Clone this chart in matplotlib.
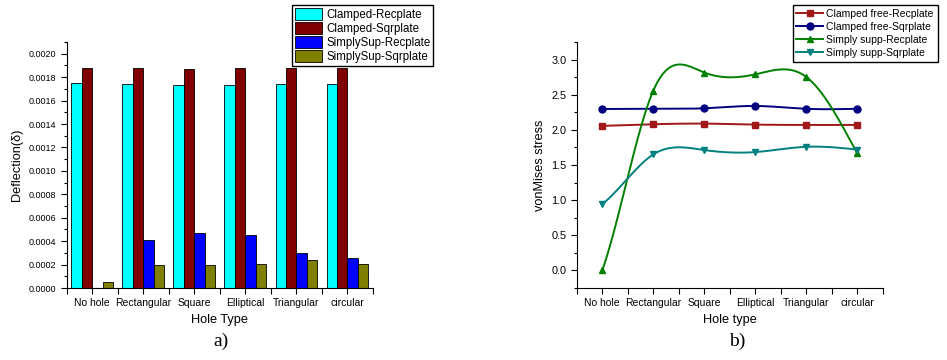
import numpy as np
import matplotlib
matplotlib.use('Agg')
import matplotlib.pyplot as plt
from matplotlib.ticker import MultipleLocator, FixedLocator, FormatStrFormatter

plt.rcParams['font.family'] = ['Liberation Sans', 'DejaVu Sans']

holes = ['No hole', 'Rectangular', 'Square', 'Elliptical', 'Triangular', 'circular']

# a) deflection
clamped_rec = [0.001746, 0.001743, 0.001737, 0.001737, 0.00174, 0.00174]
clamped_sqr = [0.001877, 0.001876, 0.001869, 0.001877, 0.001876, 0.001876]
simply_rec = [0.0, 0.000406, 0.00047, 0.000452, 0.000299, 0.000252]
simply_sqr = [0.000052, 0.0002, 0.000197, 0.000209, 0.000235, 0.000206]
bar_labels = ['Clamped-Recplate', 'Clamped-Sqrplate', 'SimplySup-Recplate', 'SimplySup-Sqrplate']
bar_colors = ['#00FFFF', '#800000', '#0000FF', '#808000']

# b) von Mises stress
cf_rec = [2.057, 2.08, 2.089, 2.075, 2.07, 2.07]
cf_sqr = [2.297, 2.30, 2.307, 2.34, 2.30, 2.30]
ss_rec = [0.0, 2.556, 2.816, 2.79, 2.754, 1.665]
ss_sqr = [0.943, 1.65, 1.713, 1.684, 1.759, 1.72]
line_labels = ['Clamped free-Recplate', 'Clamped free-Sqrplate', 'Simply supp-Recplate', 'Simply supp-Sqrplate']
line_colors = ['#A01818', '#000080', '#008000', '#008080']
line_markers = ['s', 'o', '^', 'v']


def spline(x, y, n=300):
    # cubic spline for the smooth connecting line (start slope clamped, natural end)
    x = np.asarray(x, float)
    y = np.asarray(y, float)
    k = len(x)
    h = np.diff(x)
    A = np.zeros((k, k))
    r = np.zeros(k)
    c0 = (y[1] - y[0]) / h[0]
    m0 = 0.8 * c0
    A[0, 0] = 2 * h[0]
    A[0, 1] = h[0]
    r[0] = 6 * (c0 - m0)
    A[-1, -1] = 1
    for i in range(1, k - 1):
        A[i, i - 1] = h[i - 1]
        A[i, i] = 2 * (h[i - 1] + h[i])
        A[i, i + 1] = h[i]
        r[i] = 6 * ((y[i + 1] - y[i]) / h[i] - (y[i] - y[i - 1]) / h[i - 1])
    M = np.linalg.solve(A, r)
    xs = np.linspace(x[0], x[-1], n)
    ys = np.empty_like(xs)
    for j, t in enumerate(xs):
        i = min(np.searchsorted(x, t, side='right') - 1, k - 2)
        a = x[i + 1] - t
        b = t - x[i]
        ys[j] = (M[i] * a ** 3 + M[i + 1] * b ** 3) / (6 * h[i]) \
            + (y[i] / h[i] - M[i] * h[i] / 6) * a + (y[i + 1] / h[i] - M[i + 1] * h[i] / 6) * b
    return xs, ys


fig = plt.figure(figsize=(9.47, 3.6), dpi=100)

# ---------------- a)
ax1 = fig.add_axes([0.0704, 0.2, 0.3235, 0.6833])
x = np.arange(len(holes))
w = 0.205
for k, vals in enumerate([clamped_rec, clamped_sqr, simply_rec, simply_sqr]):
    ax1.bar(x + (k - 1.5) * w, vals, w, color=bar_colors[k], edgecolor='black',
            linewidth=0.6, label=bar_labels[k])
ax1.set_xlim(-0.5, 5.5)
ax1.set_ylim(0, 0.0021)
ax1.set_xticks(x)
ax1.set_xticklabels(holes, fontsize=7.5)
ax1.xaxis.set_minor_locator(FixedLocator(np.arange(-0.5, 6, 1)))
ax1.yaxis.set_major_locator(MultipleLocator(0.0002))
ax1.yaxis.set_minor_locator(MultipleLocator(0.0001))
ax1.yaxis.set_major_formatter(FormatStrFormatter('%.4f'))
ax1.tick_params(axis='y', labelsize=6.5)
ax1.set_xlabel('Hole Type', fontsize=9.2)
ax1.set_ylabel('Deflection(δ)', fontsize=9.2)
ax1.legend(loc='upper left', bbox_to_anchor=(0.3085, 0.986), bbox_transform=fig.transFigure,
           fontsize=8.3, frameon=True, fancybox=False, edgecolor='black', framealpha=1,
           handlelength=2.3, handleheight=1.2, labelspacing=0.12, borderpad=0.25,
           handletextpad=0.4, borderaxespad=0.0)
fig.text(0.233, 0.04, 'a)', fontsize=14, family='Liberation Serif', ha='center')

# ---------------- b)
ax2 = fig.add_axes([0.609, 0.2, 0.3231, 0.6833])
for k, vals in enumerate([cf_rec, cf_sqr, ss_rec, ss_sqr]):
    xs, ys = spline(x, vals)
    ax2.plot(xs, ys, color=line_colors[k], lw=1.4, zorder=2)
    ax2.plot(x, vals, ls='none', marker=line_markers[k], ms=5, color=line_colors[k], zorder=3)
    ax2.plot([], [], color=line_colors[k], lw=1.4, marker=line_markers[k], ms=5, label=line_labels[k])
ax2.set_xlim(-0.5, 5.5)
ax2.set_ylim(-0.25, 3.25)
ax2.set_xticks(x)
ax2.set_xticklabels(holes, fontsize=7.5)
ax2.xaxis.set_minor_locator(FixedLocator(np.arange(-0.5, 6, 1)))
ax2.yaxis.set_major_locator(MultipleLocator(0.5))
ax2.yaxis.set_minor_locator(MultipleLocator(0.25))
ax2.yaxis.set_major_formatter(FormatStrFormatter('%.1f'))
ax2.tick_params(axis='y', labelsize=7.8)
ax2.set_xlabel('Hole type', fontsize=9.2)
ax2.set_ylabel('vonMises stress', fontsize=9.2)
ax2.legend(loc='upper left', bbox_to_anchor=(0.837, 0.986), bbox_transform=fig.transFigure,
           fontsize=7.5, frameon=True, fancybox=False, edgecolor='black', framealpha=1,
           handlelength=2.6, labelspacing=0.3, borderpad=0.35, handletextpad=0.3,
           borderaxespad=0.0)
fig.text(0.779, 0.04, 'b)', fontsize=14, family='Liberation Serif', ha='center')

for ax in (ax1, ax2):
    ax.spines['top'].set_visible(False)
    ax.spines['right'].set_visible(False)
    ax.tick_params(which='both', direction='out', width=0.8)
    ax.tick_params(which='major', length=4)
    ax.tick_params(which='minor', length=2.5)
    ax.tick_params(axis='x', which='minor', length=4)

fig.savefig('out.png', dpi=100)
